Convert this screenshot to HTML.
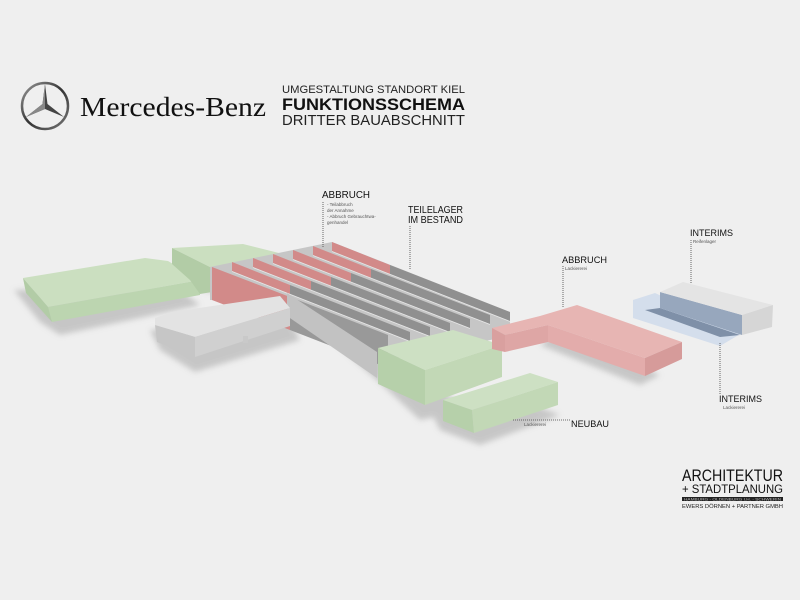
<!DOCTYPE html>
<html><head><meta charset="utf-8"><style>
html,body{margin:0;padding:0;background:#efefef;}
svg{display:block;}
text{font-family:"Liberation Sans","DejaVu Sans",sans-serif;}
</style></head><body>
<svg width="800" height="600" viewBox="0 0 800 600" xmlns="http://www.w3.org/2000/svg">
<defs>
<filter id="blur" x="-20%" y="-20%" width="140%" height="140%"><feGaussianBlur stdDeviation="3"/></filter>
<linearGradient id="ring" x1="0" y1="0" x2="1" y2="1"><stop offset="0" stop-color="#999"/><stop offset="0.5" stop-color="#333"/><stop offset="1" stop-color="#777"/></linearGradient>
</defs>
<rect width="800" height="600" fill="#efefef"/>

<!-- header -->
<circle cx="45" cy="106" r="23" fill="none" stroke="url(#ring)" stroke-width="2.5"/>
<polygon points="45,84 47.5,104 64,117 45,109 26,117 42.5,104" fill="#444"/>
<polygon points="45,84 45,109 26,117 42.5,104" fill="#888"/>
<text x="80" y="116" font-size="27" fill="#111" textLength="186" lengthAdjust="spacingAndGlyphs" style="font-family:'Liberation Serif',serif">Mercedes-Benz</text>
<text x="282" y="93" font-size="11" fill="#222" textLength="183" lengthAdjust="spacingAndGlyphs">UMGESTALTUNG STANDORT KIEL</text>
<text x="282" y="110" font-size="17" font-weight="bold" fill="#111" textLength="183" lengthAdjust="spacingAndGlyphs">FUNKTIONSSCHEMA</text>
<text x="282" y="125" font-size="15" fill="#222" textLength="183" lengthAdjust="spacingAndGlyphs">DRITTER BAUABSCHNITT</text>

<!-- shadows -->
<g fill="#bdbdbd" filter="url(#blur)" opacity="0.8">
<polygon points="14,290 40,322 60,335 200,305 180,290"/>
<polygon points="150,330 160,350 195,372 300,340 290,320"/>
<polygon points="287,300 377,380 420,420 470,410 380,350"/>
<polygon points="430,410 440,430 480,445 560,415 520,400"/>
<polygon points="540,345 640,385 660,375 560,330"/>
<polygon points="200,290 260,300 280,295 215,280"/>
</g>

<!-- left green -->
<polygon points="23,278 145,258 168,261 200,280 48,307" fill="#cbdfc0"/>
<polygon points="48,307 200,280 200,295 52,322" fill="#bcd5b0"/>
<polygon points="23,278 48,307 52,322 26,293" fill="#b2cca6"/>
<!-- upper green -->
<polygon points="172,248 243,244 283,254 250,265 212,268" fill="#cbdfc0"/>
<polygon points="172,248 212,268 212,292 200,294 190,280 172,264" fill="#b2cca6"/>

<!-- shed base -->
<polygon points="210,267 332,242 510,312 510,336 380,362 287,302 210,300" fill="#c6c6c6"/>
<!-- strips back to front -->
<g stroke-width="0">
<polygon points="332,242 390,265 390,274 332,251" fill="#d28a89"/>
<polygon points="390,265 510,312 510,321 390,274" fill="#909090"/>
<polygon points="313,246 371,269 371,278 313,255" fill="#d28a89"/>
<polygon points="371,269 490,315 490,324 371,278" fill="#909090"/>
<polygon points="293,250 351,273 351,282 293,259" fill="#d28a89"/>
<polygon points="351,273 470,319 470,328 351,282" fill="#909090"/>
<polygon points="273,254 331,277 331,286 273,263" fill="#d28a89"/>
<polygon points="331,277 450,323 450,332 331,286" fill="#909090"/>
<polygon points="253,258 311,281 311,290 253,267" fill="#d28a89"/>
<polygon points="311,281 430,327 430,336 311,290" fill="#909090"/>
<polygon points="232,262 290,285 290,294 232,271" fill="#d28a89"/>
<polygon points="290,285 410,332 410,341 290,294" fill="#909090"/>
</g>
<g stroke="#e6e6e6" stroke-width="0.8">
<line x1="332" y1="251.5" x2="510" y2="321.5"/>
<line x1="313" y1="255.5" x2="490" y2="324.5"/>
<line x1="293" y1="259.5" x2="470" y2="328.5"/>
<line x1="273" y1="263.5" x2="450" y2="332.5"/>
<line x1="253" y1="267.5" x2="430" y2="336.5"/>
<line x1="232" y1="271.5" x2="410" y2="341.5"/>
</g>
<polygon points="212,267 290,297 290,330 212,300" fill="#d28a89"/>
<polygon points="290,297 388,335 388,368 290,330" fill="#999"/>
<!-- front grey wall -->
<polygon points="287,293 377,352 377,378 287,316" fill="#c2c2c2"/>

<!-- white building -->
<polygon points="155,318 172,312 280,296 290,308 195,337 155,325" fill="#e3e3e3"/>
<polygon points="195,337 290,308 290,326 195,357" fill="#d0d0d0"/>
<polygon points="155,325 195,337 195,357 157,342" fill="#c6c6c6"/>
<rect x="243" y="336" width="5" height="7" fill="#c9c9c9"/>

<!-- center green -->
<polygon points="378,348 453,330 502,345 425,370" fill="#cde0c3"/>
<polygon points="378,348 425,370 425,405 378,384" fill="#b6d0aa"/>
<polygon points="425,370 502,345 502,377 425,405" fill="#c2d8b6"/>

<!-- neubau green -->
<polygon points="443,400 530,373 558,382 472,410" fill="#cde0c3"/>
<polygon points="443,400 472,410 474,433 443,421" fill="#b6d0aa"/>
<polygon points="472,410 558,382 558,405 474,433" fill="#c2d8b6"/>

<!-- red Lackiererei -->
<polygon points="492,328 540,316 577,305 682,342 645,358 548,325 505,335" fill="#e7b5b3"/>
<polygon points="492,328 505,335 505,352 492,349" fill="#d9a09f"/>
<polygon points="505,335 548,325 548,342 505,352" fill="#dea6a5"/>
<polygon points="548,325 645,358 645,376 548,342" fill="#e3acab"/>
<polygon points="645,358 682,342 682,359 645,376" fill="#d69b9a"/>

<!-- interims -->
<polygon points="633,300 655,293 742,333 720,346 633,318" fill="#d4deec"/>
<polygon points="645,310 660,308 740,335 720,337" fill="#7f90a8"/>
<polygon points="660,292 742,315 742,335 660,308" fill="#97a7bd"/>
<polygon points="660,292 683,282 773,305 742,315" fill="#e4e4e4"/>
<polygon points="742,315 773,305 772,327 742,335" fill="#d6d6d6"/>

<!-- labels -->
<g fill="#111">
<text x="322" y="198" font-size="10.5" textLength="48" lengthAdjust="spacingAndGlyphs">ABBRUCH</text>
<text x="327" y="206" font-size="4.5" fill="#555">- Teilabbruch</text>
<text x="327" y="212" font-size="4.5" fill="#555">der Annahme</text>
<text x="327" y="218" font-size="4.5" fill="#555">- Abbruch Gebrauchtwa-</text>
<text x="327" y="224" font-size="4.5" fill="#555">genhandel</text>
<text x="408" y="213" font-size="10.5" textLength="55" lengthAdjust="spacingAndGlyphs">TEILELAGER</text>
<text x="408" y="223" font-size="10.5" textLength="55" lengthAdjust="spacingAndGlyphs">IM BESTAND</text>
<text x="562" y="263" font-size="9.5" textLength="45" lengthAdjust="spacingAndGlyphs">ABBRUCH</text>
<text x="565" y="270" font-size="4.5" fill="#555">Lackiererei</text>
<text x="690" y="236" font-size="9.5" textLength="43" lengthAdjust="spacingAndGlyphs">INTERIMS</text>
<text x="693" y="243" font-size="4.5" fill="#555">Reifenlager</text>
<text x="719" y="402" font-size="9.5" textLength="43" lengthAdjust="spacingAndGlyphs">INTERIMS</text>
<text x="723" y="409" font-size="4.5" fill="#555">Lackiererei</text>
<text x="571" y="427" font-size="9.5" textLength="38" lengthAdjust="spacingAndGlyphs">NEUBAU</text>
<text x="524" y="426" font-size="4.5" fill="#555">Lackiererei</text>
</g>
<g stroke="#444" stroke-width="0.8" stroke-dasharray="1,1" fill="none">
<line x1="323" y1="202" x2="323" y2="247"/>
<line x1="410" y1="226" x2="410" y2="270"/>
<line x1="563" y1="266" x2="563" y2="308"/>
<line x1="691" y1="240" x2="691" y2="284"/>
<line x1="720" y1="343" x2="720" y2="395"/>
<line x1="513" y1="420" x2="570" y2="420"/>
</g>

<!-- logo bottom right -->
<text x="682" y="481" font-size="17" fill="#111" textLength="101" lengthAdjust="spacingAndGlyphs">ARCHITEKTUR</text>
<text x="682" y="493" font-size="11.5" fill="#111" textLength="101" lengthAdjust="spacingAndGlyphs">+ STADTPLANUNG</text>
<rect x="682" y="497" width="101" height="4" fill="#222"/>
<text x="684" y="500.5" font-size="3.5" fill="#bbb" textLength="97" lengthAdjust="spacingAndGlyphs">HAMBURG  -  OLDENBURG I.H.  -  SCHWERIN</text>
<text x="682" y="508" font-size="5" fill="#222" textLength="101" lengthAdjust="spacingAndGlyphs">EWERS DÖRNEN + PARTNER GMBH</text>
</svg>
</body></html>
